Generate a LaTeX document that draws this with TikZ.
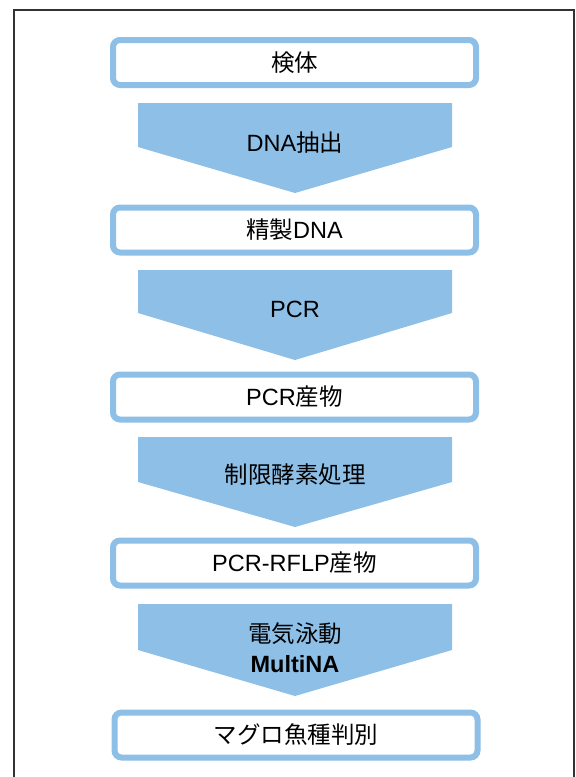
\documentclass[tikz,border=0pt]{standalone}
\usepackage{fontspec}
\setmainfont{Noto Sans CJK JP}
\newfontfamily\lat{Liberation Sans}
\definecolor{flowblue}{RGB}{141,191,231}
\definecolor{framegray}{RGB}{50,50,50}
\tikzset{
  stepbox/.style={draw=flowblue, line width=6pt, rounded corners=7pt, fill=white,
    minimum width=363pt, minimum height=45pt, inner sep=0pt,
    font=\fontsize{23.5}{25}\selectfont},
  arrowtext/.style={align=center, inner sep=0pt, font=\fontsize{23.5}{30}\selectfont},
  arrowfill/.style={fill=flowblue, draw=none}
}
\begin{document}
\begin{tikzpicture}[x=1pt,y=-1pt]
\useasboundingbox (0,0) rectangle (576,777);
\draw[framegray, line width=1.3pt] (14,777) -- (14,10) -- (574,10) -- (574,777);
% arrows
\fill[arrowfill] (138,103) -- (452,103) -- (452,147) -- (295,193) -- (138,147) -- cycle;
\fill[arrowfill] (138,270) -- (452,270) -- (452,313) -- (295,360) -- (138,313) -- cycle;
\fill[arrowfill] (138,437) -- (452,437) -- (452,482) -- (295,527) -- (138,482) -- cycle;
\fill[arrowfill] (138,604) -- (452,604) -- (452,650) -- (295,696) -- (138,650) -- cycle;
\node[arrowtext] (a1) at (295,143) {{\lat DNA}抽出};
\node[arrowtext] (a2) at (295,309) {\lat PCR};
\node[arrowtext] (a3) at (295,475) {制限酵素処理};
\node[arrowtext] (a4) at (295,648) {電気泳動\\{\lat\bfseries MultiNA}};
% boxes
\node[stepbox] (b1) at (294.5,62.5) {検体};
\node[stepbox] (b2) at (294.5,230) {精製{\lat DNA}};
\node[stepbox] (b3) at (294.5,397) {{\lat PCR}産物};
\node[stepbox] (b4) at (294.5,563) {{\lat PCR-RFLP}産物};
\node[stepbox] (b5) at (296,735) {マグロ魚種判別};
\end{tikzpicture}
\end{document}
